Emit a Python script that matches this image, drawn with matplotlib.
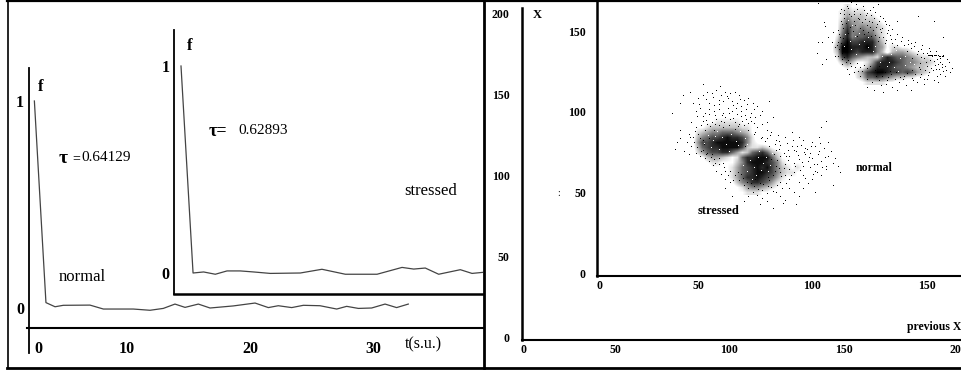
import numpy as np
import matplotlib
matplotlib.use("Agg")
import matplotlib.pyplot as plt
from matplotlib.lines import Line2D

W, H = 961, 370
plt.rcParams["font.family"] = ["Liberation Serif", "DejaVu Serif"]

# relaxation curves, t in s.u.
normal_t = [2.47, 3.41, 4.15, 4.82, 6.99, 8.08, 10.51, 11.87, 12.95, 13.90, 14.72, 15.80, 16.75, 18.64,
            20.41, 21.49, 22.30, 23.39, 24.34, 25.69, 27.05, 27.86, 28.81, 29.89, 30.98, 31.92, 32.87]
normal_f = [1.0, 0.026, 0.006, 0.013, 0.014, -0.005, -0.005, -0.011, -0.002, 0.019, 0.003, 0.019, 0.0, 0.010,
            0.024, 0.002, 0.011, 0.002, 0.013, 0.011, -0.005, 0.008, -0.002, 0.0, 0.019, 0.002, 0.019]
stressed_t = [2.47, 3.45, 4.31, 5.26, 6.21, 7.29, 8.38, 9.73, 12.17, 13.93, 15.83, 18.41, 20.44, 21.39,
              22.33, 23.42, 25.18, 26.13, 27.00]
stressed_f = [1.0, 0.0, 0.005, -0.006, 0.010, 0.010, 0.005, -0.002, 0.0, 0.018, -0.006, -0.006, 0.027, 0.019,
              0.024, -0.006, 0.016, -0.002, 0.003]

# return map, darkness of the dense parts (0-9 per cell)
normal_density = [
    "000001211110000000000000000",
    "000012322211000000000000000",
    "000012433322100000000000000",
    "000013644333210000000000000",
    "000014754544321000000000000",
    "000015855655321000000000000",
    "000026856676421000000000000",
    "000037977888531100000000000",
    "000149988898541221100000000",
    "000139987888530344321100000",
    "000027865433268766543221000",
    "000013531124788876554332110",
    "000001211136888766543321100",
    "000000012478998776764321000",
    "000000002366765433221100000",
    "000000000122221100000000000",
]
stressed_density = [
    "0000000001111110000000000000000000",
    "0000000111111111000000000000000000",
    "0000000111111111100000000000000000",
    "0000000112222211100000000000000000",
    "0000011233333322100000000000000000",
    "0000023455666543100000000000000000",
    "0000035677898875200000000000000000",
    "0000047789999985210000000000000000",
    "0000036788999973223210000000000000",
    "0000024677886423678632100000000000",
    "0000001344321268899963110001100000",
    "0000000122111358999875211111110000",
    "0000000011112467898975321211111000",
    "0000000000012467899875322111111000",
    "0000000000012468898764211111100000",
    "0000000000001356887642111111000000",
    "0000000000000124554321110000000000",
    "0000000000000112221100000000000000",
]

# loose points around the dense parts, (previous X, X)
normal_points = [
    (102.5, 167), (105, 155), (105.5, 153), (102.5, 143), (104.4, 143), (102, 136), (106, 132), (104.4, 129),
    (109, 149), (108.4, 143), (110, 139.6), (111.3, 134.4), (115, 165.5), (117, 167.5), (119.3, 166.5),
    (122, 165.5), (126.6, 164.4), (128.7, 166.5), (112, 161), (114, 158), (118, 162), (121, 160), (124, 161),
    (127, 158), (129, 156), (131, 158), (132, 154), (133, 150), (135, 151), (134, 147), (136, 145),
    (137, 156), (146, 159), (153, 156), (157, 146), (130, 149), (128, 152), (126, 155), (123, 157),
    (116, 160), (113, 154), (111, 150), (112, 146), (113, 129), (115, 126), (118, 124), (117, 128),
    (121, 122), (124, 120), (126, 118), (129, 119), (130, 116), (132, 117), (135, 115), (138, 118),
    (141, 116), (144, 119), (147, 121), (150, 120), (153, 119), (156, 123), (151, 124), (147, 126),
    (155, 129), (158, 128), (160, 124), (159, 132), (156, 133), (157, 135), (154, 137), (151, 139),
    (148, 141), (145, 143), (142, 144), (139, 146), (137, 148), (150, 136), (153, 131), (143, 139),
    (146, 137), (149, 133), (152, 127), (145, 123), (140, 122), (136, 120), (133, 121), (128, 122),
    (120, 125), (116, 123), (113, 132), (110, 134), (137, 141), (140, 141), (143, 142), (147, 130),
    (150, 128), (154, 126), (157, 125), (161, 127), (158, 122), (155, 118), (149, 117), (143, 113),
    (137, 113), (131, 112), (127, 113), (124, 115), (134, 125), (120, 158), (125, 152), (129, 146),
    (118, 156), (122, 150), (135, 142), (132, 144), (111, 143), (107, 146), (114, 163), (125, 163),
    (150.5, 135), (151, 135), (151.5, 135), (152, 135), (152.5, 135), (153, 135), (153.5, 134.5), (154, 134.5),
    (155, 134.5), (155.5, 134), (156, 134), (156.5, 134), (157, 134),
    (112.4, 163.3), (113.7, 160.2), (115.6, 163.8), (116.9, 158.7), (118.3, 160.4), (119.7, 163.1), (120.6, 157.3),
    (122.4, 162.6), (123.5, 159.4), (124.8, 156.2), (125.7, 159.8), (127.6, 161.7), (128.4, 154.3), (129.7, 159.2),
    (130.6, 151.6), (131.8, 155.7), (132.6, 148.4), (133.7, 153.2), (134.6, 144.8), (112.7, 155.6), (113.4, 151.4),
    (114.7, 154.8), (115.4, 148.7), (116.6, 152.3), (117.7, 149.4), (118.6, 153.7), (119.4, 146.8), (120.7, 151.8),
    (121.6, 155.4), (122.7, 147.6), (123.8, 153.7), (124.5, 149.2), (125.6, 146.3), (126.7, 150.6), (127.5, 147.4),
    (128.6, 143.7), (129.4, 150.8), (130.7, 146.2), (131.6, 142.4), (111.6, 147.8), (112.6, 142.3), (113.6, 145.4),
    (110.7, 141.2), (111.7, 138.6), (112.8, 136.3), (113.7, 133.4), (114.5, 130.7), (115.7, 131.6), (116.6, 129.6),
    (118.6, 127.4), (119.6, 129.8), (120.7, 127.3), (122.5, 128.6), (121.7, 124.6), (123.8, 126.7), (125.4, 128.2),
    (127.6, 125.6), (129.3, 127.7), (131.6, 124.4), (130.4, 121.7), (132.7, 119.4), (134.6, 122.7), (136.7, 124.3),
    (138.4, 121.4), (139.7, 119.6), (141.6, 123.7), (143.6, 120.8), (145.6, 118.3), (147.4, 123.2), (148.7, 119.6),
    (150.6, 122.4), (152.6, 125.7), (154.4, 121.7), (156.6, 127.2), (158.6, 125.4), (155.7, 130.6), (153.6, 128.7),
    (151.6, 131.6), (149.7, 130.2), (147.6, 133.6), (145.7, 135.4), (143.7, 133.2), (141.6, 137.4), (147.7, 138.3),
    (144.6, 140.6), (141.7, 141.7), (138.6, 143.6), (135.7, 139.6), (149.4, 125.6), (146.7, 127.4), (143.4, 125.7),
    (152.4, 134.2), (155.4, 126.3), (151.3, 137.2), (148.4, 136.2), (154.6, 132.4), (156.7, 129.4), (159.6, 130.4),
]
stressed_points = [
    (38.5, 98.6), (42, 105), (43.5, 110), (46.5, 111.6), (52, 116.8), (59.6, 115.8), (42, 88), (40.7, 80.6),
    (40, 76.4), (44, 75), (46, 73), (42, 83), (45, 81), (47, 78), (48, 105), (50, 108), (52, 110),
    (54, 112), (56, 111), (58, 113), (60, 110), (62, 112), (64, 111), (66, 112), (68, 110), (70, 107),
    (72, 108), (74, 105), (76, 103), (78, 100), (81, 106), (83, 96), (80, 93), (78, 92), (55, 105),
    (57, 104), (59, 107), (61, 106), (63, 108), (65, 106), (67, 105), (69, 103), (71, 101), (73, 99),
    (49, 100), (51, 102), (53, 99), (55, 98), (57, 100), (59, 101), (61, 99), (63, 102), (65, 100),
    (67, 98), (69, 97), (71, 95), (73, 94), (75, 96), (52, 94), (54, 92), (56, 93), (58, 95), (60, 94),
    (62, 96), (64, 95), (66, 93), (68, 92), (70, 91), (47, 93), (49, 90), (46, 86), (48, 84), (50, 86),
    (49, 74), (51, 72), (53, 71), (55, 69), (57, 70), (59, 67), (61, 68), (52, 76), (54, 74), (56, 73),
    (58, 63), (60, 61), (62, 58), (64, 56), (66, 60), (68, 57), (70, 54), (72, 52), (74, 50), (76, 48),
    (78, 51), (80, 49), (82, 53), (84, 50), (86, 47), (88, 45), (90, 52), (92, 50), (94, 47), (62, 52),
    (65, 47), (70, 44), (77, 42), (83, 40), (78, 46), (80, 44), (72, 47), (86, 56), (88, 60), (90, 58),
    (92, 62), (94, 56), (96, 60), (98, 55), (100, 58), (102, 62), (104, 60), (106, 64), (89, 80),
    (91, 78), (93, 75), (95, 79), (97, 77), (99, 74), (101, 78), (103, 75), (105, 77), (107, 72),
    (109, 68), (111, 66), (107, 81), (103, 84), (100, 81), (96, 82), (90, 72), (92, 68), (94, 70),
    (96, 66), (98, 69), (100, 71), (102, 67), (104, 69), (106, 66), (88, 67), (90, 64), (97, 73),
    (99, 65), (101, 63), (108, 75), (92, 76), (86, 72), (84, 76), (86, 79), (84, 82), (88, 84), (82, 87),
    (85, 85), (80, 88), (76, 90), (91, 87), (94, 84), (104, 90), (106, 94), (110, 71), (112, 62), (81, 78),
    (82, 70), (84, 66), (86, 62), (83, 60), (81, 57), (77, 55), (73, 55), (75, 58), (69, 61), (64, 63),
    (101, 50), (109, 54), (93, 42), (96, 52), (87, 43), (55, 83), (52, 82), (53, 88), (57, 88), (61, 90),
    (66, 89), (72, 88), (75, 87), (78, 84), (80, 83),
    (50.4, 104.3), (53.6, 107.4), (56.7, 108.6), (59.3, 104.2), (62.6, 109.4), (65.4, 103.6), (68.3, 107.7), (71.4, 104.2),
    (74.6, 101.3), (77.3, 97.4), (49.7, 96.6), (52.4, 97.2), (54.6, 101.4), (57.6, 97.7), (60.6, 97.3), (63.4, 98.6),
    (66.4, 101.6), (68.6, 99.7), (70.7, 97.6), (72.6, 96.2), (74.4, 92.6), (51.3, 91.4), (53.7, 94.6), (55.4, 90.7),
    (57.3, 92.2), (59.4, 91.3), (61.4, 93.3), (63.6, 91.4), (65.3, 95.8), (67.4, 90.6), (69.4, 93.7), (71.7, 92.4),
    (48.6, 87.7), (50.7, 83.4), (52.6, 79.6), (48.4, 80.7), (46.7, 83.6), (49.6, 77.4), (51.4, 75.3), (53.4, 73.2),
    (55.6, 71.4), (57.5, 67.7), (59.4, 70.6), (61.4, 65.3), (56.6, 66.2), (63.3, 60.4), (61.6, 62.7), (65.3, 57.4),
    (67.4, 62.3), (69.6, 58.4), (71.3, 56.2), (74.3, 53.4), (76.4, 51.7), (78.6, 54.6), (80.7, 53.3), (82.6, 50.6),
    (84.4, 54.2), (86.6, 52.3), (88.3, 55.4), (86.3, 59.4), (87.6, 64.6), (89.3, 69.4), (87.4, 74.2), (85.6, 76.7),
    (83.7, 79.3), (85.3, 81.6), (79.4, 81.4), (77.4, 83.3), (81.6, 85.4), (74.6, 85.6), (83.4, 73.4), (84.6, 69.3),
    (85.4, 64.7), (83.6, 62.6), (80.4, 59.2), (70.6, 78.4), (91.4, 81.7), (93.6, 72.4), (95.3, 68.4), (97.6, 76.3),
    (98.4, 71.7), (100.7, 67.3), (102.6, 73.6), (104.3, 65.3), (90.6, 60.3), (94.4, 63.4), (92.6, 65.6), (96.6, 58.3),
    (89.4, 75.6), (93.4, 78.3), (99.6, 78.4), (105.6, 71.6), (103.4, 80.4), (88.6, 72.2), (96.3, 74.6), (100.3, 60.7),
]
# light specks inside the darkest parts
normal_gaps = [
    (114.3, 147.6), (116.4, 143.7), (118.7, 146.3), (120.3, 141.6), (122.6, 143.3), (124.4, 139.6), (126.7, 137.4),
    (116.7, 138.4), (119.3, 135.6), (113.8, 140.4), (117.4, 153.7), (115.7, 156.3), (120.4, 148.4), (124.3, 146.2),
    (127.6, 140.6), (130.4, 134.3), (133.4, 130.6), (135.6, 127.4), (138.4, 132.7), (140.4, 128.4), (142.6, 130.4),
    (137.4, 124.7), (132.6, 128.2), (129.7, 130.6), (134.4, 135.3), (136.7, 137.6), (140.7, 134.3), (144.4, 129.4),
]
stressed_gaps = [
    (54.4, 85.4), (56.7, 81.7), (58.4, 87.4), (60.6, 83.6), (62.4, 79.3), (64.6, 85.7), (66.4, 81.3), (68.4, 87.6),
    (70.6, 83.4), (52.6, 80.4), (55.7, 77.6), (59.4, 76.4), (63.6, 75.3), (67.6, 78.6), (71.4, 79.4), (57.6, 84.4),
    (72.6, 69.4), (74.7, 65.4), (76.4, 71.6), (78.6, 67.4), (80.4, 62.6), (75.4, 60.3), (71.6, 62.7), (73.4, 57.6),
    (77.6, 63.3), (79.7, 71.3), (81.6, 66.4), (69.6, 66.3), (82.4, 74.2), (76.6, 75.4),
]

normal_grid = np.array([[int(c) for c in row] for row in normal_density])
stressed_grid = np.array([[int(c) for c in row] for row in stressed_density])
normal_xy = np.array(normal_points)
stressed_xy = np.array(stressed_points)
gaps_xy = np.array(normal_gaps + stressed_gaps)

curve_ticks = [2.76, 10, 20, 30]
curve_tick_labels = ["0", "10", "20", "30"]
outer_xticks = [9.8, 50, 100, 150, 200]
outer_yticks = [0, 50, 100, 150, 200]
inner_xticks = [6.8, 50, 100, 150]
inner_yticks = [0, 50, 100, 150]
map_xlabels = ["0", "50", "100", "150", "200"]
map_ylabels = ["0", "50", "100", "150", "200"]

fig = plt.figure(figsize=(W / 100, H / 100), dpi=100, facecolor="white")


def panel(left, right, top, bottom, xlim, ylim):
    # axes placed by its pixel box in the image
    ax = fig.add_axes([left / W, 1 - bottom / H, (right - left) / W, (bottom - top) / H])
    ax.patch.set_alpha(0)
    ax.set_xlim(xlim)
    ax.set_ylim(ylim)
    ax.spines["top"].set_visible(False)
    ax.spines["right"].set_visible(False)
    return ax


def t_at(px):
    return 10 + (px - 127) / 12.3


def f_at(py):
    return (308 - py) / 207


# left panel, normal curve
ax = panel(27, 483, 68, 353, (t_at(27), t_at(483)), (f_at(353), f_at(68)))
ax.spines["left"].set_position(("data", t_at(29)))
ax.spines["left"].set_linewidth(1.3)
ax.spines["bottom"].set_position(("data", f_at(328)))
ax.spines["bottom"].set_linewidth(1.5)
ax.plot(normal_t, normal_f, color="#444444", lw=0.9)
ax.set_xticks(curve_ticks, curve_tick_labels, fontsize=11.5, fontweight="bold")
ax.set_yticks([0, 1], ["0", "1"], fontsize=11.5, fontweight="bold")
ax.tick_params(axis="both", length=0)
ax.tick_params(axis="x", pad=9.5)
ax.tick_params(axis="y", pad=3.5)
ax.text(t_at(41), f_at(87), "f", fontsize=12, fontweight="bold", ha="center", va="center")
ax.text(t_at(59), f_at(158), "τ", fontsize=14, fontweight="bold", ha="left", va="center")
ax.text(t_at(72), f_at(159), "=", fontsize=10, ha="left", va="center")
ax.text(t_at(81), f_at(157), "0.64129", fontsize=11, ha="left", va="center")
ax.text(t_at(59), f_at(277), "normal", fontsize=12, ha="left", va="center")
ax.text(t_at(405), f_at(344), "t(s.u.)", fontsize=11.5, ha="left", va="center")

# left panel, stressed curve
ins = panel(174, 483, 30, 294, (2.47 - 7 / 12.3, 2.47 + 302 / 12.3), ((273 - 294) / 207, (273 - 30) / 207))
ins.spines["left"].set_linewidth(1.3)
ins.spines["bottom"].set_linewidth(1.8)
ins.plot(stressed_t, stressed_f, color="#444444", lw=0.9)
ins.set_xticks([])
ins.set_yticks([0, 1], ["0", "1"], fontsize=11.5, fontweight="bold")
ins.tick_params(axis="y", length=0, pad=3)
ins.text(3.15, 1.095, "f", fontsize=12, fontweight="bold", ha="center", va="center")
ins.text(4.75, 0.685, "τ=", fontsize=13, fontweight="bold", ha="left", va="center")
ins.text(7.15, 0.69, "0.62893", fontsize=11, ha="left", va="center")
ins.text(20.6, 0.395, "stressed", fontsize=12, ha="left", va="center")


# right panel, both scales share 2.287 px per unit across and 1.615 px per unit up
def map_x(px, ref_px):
    return 50 + (px - ref_px) / 2.287


outer = panel(522, 961, 8, 340, (map_x(522, 615), map_x(961, 615)), ((337 - 340) / 1.615, (337 - 8) / 1.615))
outer.spines["left"].set_linewidth(1.8)
outer.spines["bottom"].set_linewidth(1.5)
outer.set_xticks(outer_xticks, map_xlabels, fontsize=8.5, fontweight="bold")
outer.set_yticks(outer_yticks, map_ylabels, fontsize=8.5, fontweight="bold")
outer.tick_params(axis="x", length=0, pad=3)
outer.tick_params(axis="y", length=0, pad=9)
outer.text(map_x(533, 615), (337 - 15) / 1.615, "X", fontsize=9, fontweight="bold", ha="left", va="center")
outer.text(map_x(907, 615), (337 - 327) / 1.615, "previous X", fontsize=8.5, fontweight="bold", ha="left", va="center")
outer.text(map_x(559, 615), (337 - 193) / 1.615, ":", fontsize=7, ha="center", va="center")

inner = panel(597, 961, 0, 276, (map_x(597, 698), map_x(961, 698)), ((273 - 276) / 1.61, 273 / 1.61))
inner.spines["left"].set_linewidth(1.8)
inner.spines["bottom"].set_linewidth(1.5)
inner.imshow(normal_grid, cmap="gray_r", vmin=1, vmax=9, aspect="auto", interpolation="bilinear",
             extent=(101.1, 160.0, 116.8, 166.5))
inner.imshow(stressed_grid, cmap="gray_r", vmin=1, vmax=9, aspect="auto", interpolation="bilinear",
             extent=(37.8, 112.0, 48.4, 104.3), alpha=0.95)
inner.set_xlim(map_x(597, 698), map_x(961, 698))
inner.set_ylim((273 - 276) / 1.61, 273 / 1.61)
inner.plot(gaps_xy[:, 0], gaps_xy[:, 1], ",", color="white")
inner.plot(normal_xy[:, 0], normal_xy[:, 1], ",", color="black")
inner.plot(stressed_xy[:, 0], stressed_xy[:, 1], ",", color="black")
inner.set_xticks(inner_xticks, map_xlabels[:4], fontsize=8.5, fontweight="bold")
inner.set_yticks(inner_yticks, map_ylabels[:4], fontsize=8.5, fontweight="bold")
inner.tick_params(axis="x", length=0, pad=3)
inner.tick_params(axis="y", length=0, pad=8)
inner.text(map_x(856, 698), (273 - 168) / 1.61, "normal", fontsize=8.5, fontweight="bold", ha="left", va="center")
inner.text(map_x(698, 698), (273 - 211) / 1.61, "stressed", fontsize=9, fontweight="bold", ha="left", va="center")

# picture frame
for xs, ys, lw in [
    ((7.5, 7.5), (0, 368), 1.2),
    ((7, 961), (1, 1), 1.6),
    ((7, 961), (368, 368), 2.0),
    ((484, 484), (0, 368), 2.0),
]:
    fig.add_artist(Line2D(np.array(xs) / W, 1 - np.array(ys) / H, color="black", lw=lw))

fig.savefig("out.png", dpi=100)
